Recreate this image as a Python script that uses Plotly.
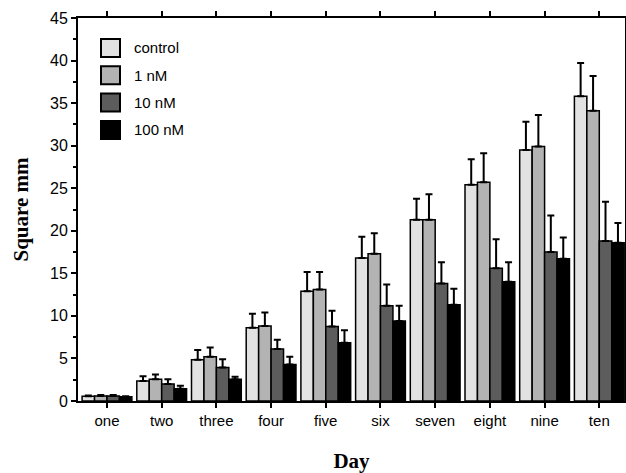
import plotly.graph_objects as go

days = ["one", "two", "three", "four", "five", "six", "seven", "eight", "nine", "ten"]
series_names = ["control", "1 nM", "10 nM", "100 nM"]
control = [0.55, 2.35, 4.85, 8.6, 12.9, 16.8, 21.3, 25.4, 29.5, 35.8]
nm1 = [0.6, 2.55, 5.2, 8.8, 13.1, 17.3, 21.3, 25.7, 29.9, 34.1]
nm10 = [0.6, 2.0, 3.95, 6.1, 8.75, 11.2, 13.8, 15.6, 17.5, 18.8]
nm100 = [0.5, 1.45, 2.55, 4.3, 6.85, 9.4, 11.3, 14.0, 16.7, 18.6]
control_err = [0.1, 0.55, 1.15, 1.65, 2.25, 2.5, 2.45, 3.0, 3.3, 3.9]
nm1_err = [0.1, 0.55, 1.1, 1.6, 2.05, 2.4, 3.0, 3.4, 3.7, 4.1]
nm10_err = [0.1, 0.55, 0.95, 1.1, 1.85, 2.5, 2.5, 3.4, 4.3, 4.6]
nm100_err = [0.05, 0.35, 0.3, 0.9, 1.45, 1.8, 1.9, 2.3, 2.5, 2.3]

colors = ["#e2e2e2", "#b3b3b3", "#5c5c5c", "#000000"]
values = [control, nm1, nm10, nm100]
errors = [control_err, nm1_err, nm10_err, nm100_err]

W, H = 626, 473
ML, MR, MT, MB = 78, 1, 18, 72
PW, PH = W - ML - MR, H - MT - MB

fig = go.Figure()
for name, vals, errs, col in zip(series_names, values, errors, colors):
    fig.add_trace(go.Bar(
        x=days, y=vals, name=name,
        marker=dict(color=col, line=dict(color="black", width=1.5)),
        error_y=dict(type="data", symmetric=False, array=errs,
                     arrayminus=[0] * len(errs), color="black",
                     thickness=2, width=3.5),
    ))

# legend drawn manually (large square swatches)
def px_x(p):
    return (p - ML) / PW

def px_y(p):
    return 1 - (p - MT) / PH

shapes = []
annotations = []
for i, (name, col) in enumerate(zip(series_names, colors)):
    top = 39 + i * 27.3
    shapes.append(dict(type="rect", xref="paper", yref="paper",
                       x0=px_x(101), x1=px_x(120), y0=px_y(top + 18), y1=px_y(top),
                       fillcolor=col, line=dict(color="black", width=2)))
    annotations.append(dict(xref="paper", yref="paper", x=px_x(132), y=px_y(top + 9),
                            xanchor="left", yanchor="middle", showarrow=False,
                            text=name, font=dict(size=15)))

fig.update_layout(
    width=W, height=H,
    barmode="group", bargap=0.09, bargroupgap=0.0,
    plot_bgcolor="white", paper_bgcolor="white",
    margin=dict(l=ML, r=MR, t=MT, b=MB),
    font=dict(family="Liberation Sans, Arial, sans-serif", size=14, color="black"),
    showlegend=False,
    shapes=shapes, annotations=annotations,
)
fig.update_xaxes(
    automargin=False,
    range=[-0.53, 9.47], showline=True, linecolor="black", linewidth=2,
    mirror="ticks", ticks="outside", ticklen=5, tickwidth=1.5, tickcolor="black",
    tickfont=dict(size=15),
    title=dict(text="<b>Day</b>", font=dict(family="Liberation Serif, Times New Roman, serif", size=21), standoff=26),
)
fig.update_yaxes(
    automargin=False,
    range=[0, 45], dtick=5, showline=True, linecolor="black", linewidth=2,
    mirror="ticks", ticks="outside", ticklen=5, tickwidth=1.5, tickcolor="black",
    showgrid=False, zeroline=False, tickfont=dict(size=16),
    minor=dict(dtick=2.5, ticks="outside", ticklen=3, tickwidth=1.5, tickcolor="black"),
    title=dict(text="<b>Square mm</b>", font=dict(family="Liberation Serif, Times New Roman, serif", size=21), standoff=16),
)

fig.write_html(
    "out.html",
    config={"displayModeBar": False},
    post_script="document.body.style.margin='0';document.body.style.overflow='hidden';"
                "document.documentElement.style.overflow='hidden';",
)
